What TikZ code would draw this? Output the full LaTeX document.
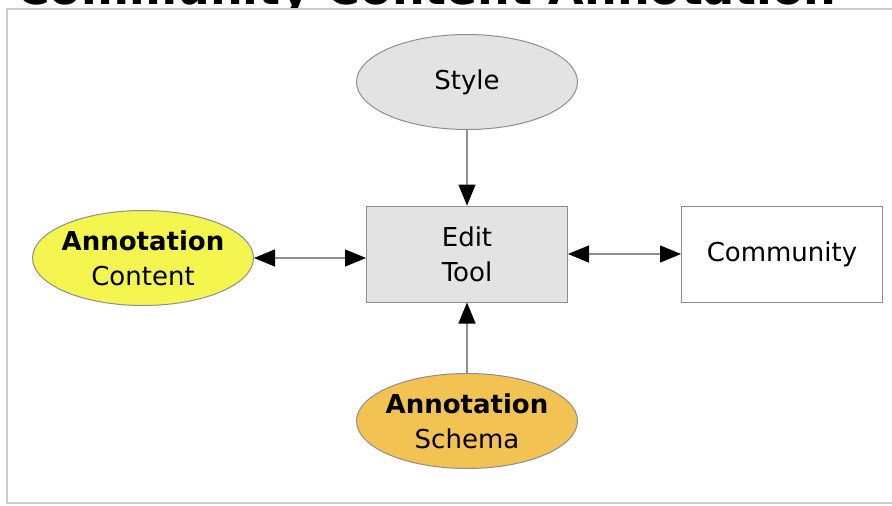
\documentclass[tikz,border=0pt]{standalone}
\usepackage{fontspec}
\setsansfont{DejaVu Sans}
\usetikzlibrary{shapes.geometric,arrows.meta}
\definecolor{boxgray}{HTML}{E3E3E3}
\definecolor{annyellow}{HTML}{F4F54E}
\definecolor{annorange}{HTML}{F2C252}
\definecolor{linegray}{HTML}{8E8E8E}
\definecolor{framegray}{HTML}{CACACA}

\begin{document}
\begin{tikzpicture}[x=1pt,y=-1pt]
  \tikzset{oval/.style={ellipse,draw=linegray,line width=1pt,minimum width=221pt,minimum height=95pt,
      inner xsep=-6pt,inner ysep=0pt,align=center,font=\sffamily\fontsize{26}{35}\selectfont},
    toolbox/.style={rectangle,draw=linegray,line width=1pt,minimum width=201pt,minimum height=96pt,
      align=center,font=\sffamily\fontsize{26}{35}\selectfont},
    link/.style={draw=linegray,line width=1.3pt},
    tip/.tip={Triangle[length=21pt,width=17pt,color=black]}}
  \useasboundingbox (0,0) rectangle (892,506);
  \begin{scope}
    \clip (0,0) rectangle (892,506);
    \node[anchor=base west,inner sep=0pt,font=\sffamily\bfseries\fontsize{46}{50}\selectfont] (title) at (16,5) {Community Content Annotation};
    \draw[framegray,line width=2pt,fill=white] (7,503) rectangle (910,9);
  \end{scope}
  % nodes
  \node[oval,fill=boxgray] (style) at (467,82) {Style};
  \node[toolbox,fill=boxgray] (edit) at (467,254) {Edit\\Tool};
  \node[oval,fill=annyellow] (content) at (143,258) {\textbf{Annotation}\\Content};
  \node[toolbox,fill=white] (community) at (782,254) {Community};
  \node[oval,fill=annorange] (schema) at (467,421) {\textbf{Annotation}\\Schema};
  % arrows
  \draw[link,-tip] (style) -- (edit);
  \draw[link,-tip] (schema) -- (edit);
  \draw[link,tip-tip] (content) -- (edit.west |- content.east);
  \draw[link,tip-tip] (edit) -- (community);
\end{tikzpicture}
\end{document}
